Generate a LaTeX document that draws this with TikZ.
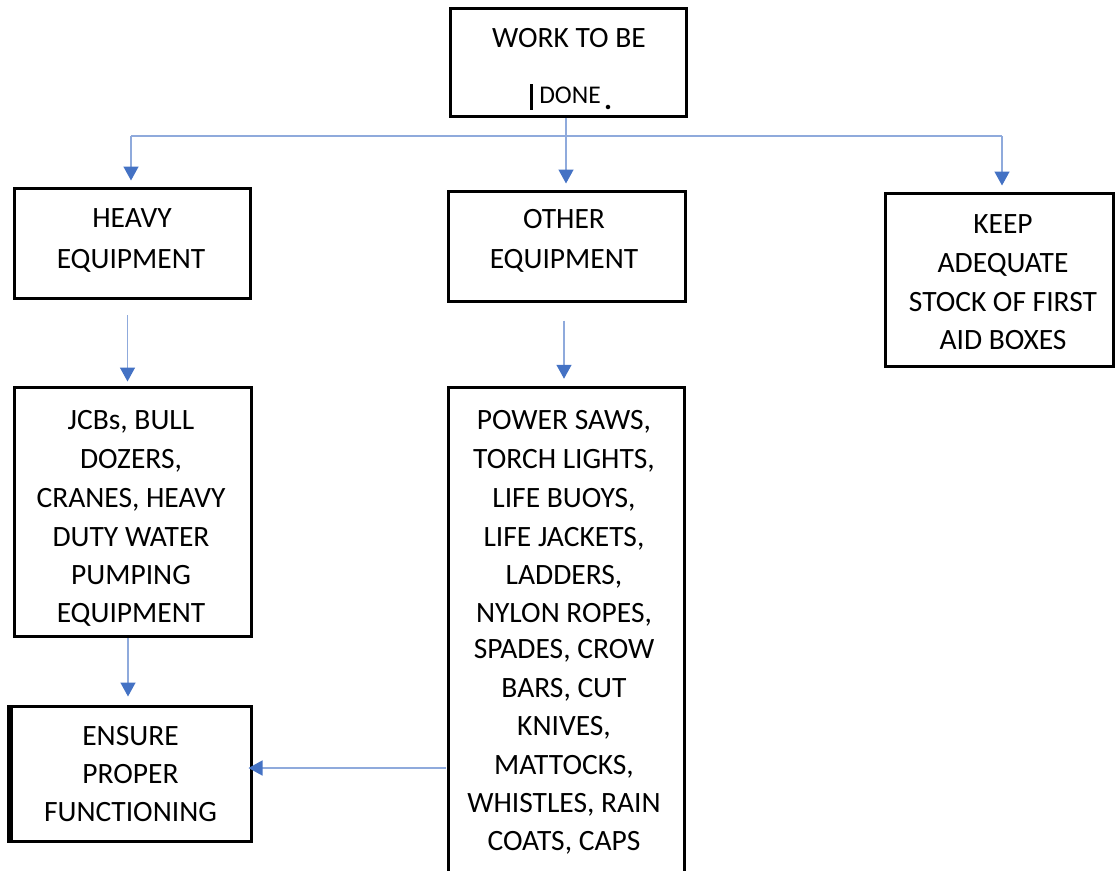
\documentclass[tikz,border=0pt]{standalone}
\usepackage{fontspec}
\setmainfont{Carlito}
\usetikzlibrary{arrows.meta}
\definecolor{lineblue}{HTML}{8FAADC}
\definecolor{headblue}{HTML}{4472C4}
\begin{document}
\begin{tikzpicture}[x=1pt,y=-1pt,
  box/.style={draw=black,line width=3pt,rectangle,inner sep=0pt,line cap=rect},
  txt/.style={anchor=base,inner sep=0pt,font=\fontsize{29.5}{38}\selectfont},
  conn/.style={draw=lineblue,line width=1.5pt,
    -{Triangle[length=14pt,width=15pt,color=headblue]}},
  plain/.style={draw=lineblue,line width=1.5pt}]
\useasboundingbox (0,0) rectangle (1115,870);
\clip (0,0) rectangle (1115,870);

% boxes
\node[box,minimum width=236pt,minimum height=108pt] (top)    at (568.5,62.5) {};
\node[box,minimum width=236pt,minimum height=110pt] (heavy)  at (132.5,243.5) {};
\node[box,minimum width=237pt,minimum height=110pt] (other)  at (567,246.5) {};
\node[box,minimum width=228pt,minimum height=173pt] (keep)   at (999.5,280) {};
\node[box,minimum width=237pt,minimum height=249pt] (jcb)    at (133,512) {};
\node[box,minimum width=236pt,minimum height=512pt] (list)   at (566.5,643.75) {};
\node[box,minimum width=240pt,minimum height=135pt] (ensure) at (131.5,774) {};
\fill (7,705) rectangle (13,843);

% texts
\node[txt] (t1) at (569,47) {WORK TO BE};
\node[txt,font=\fontsize{25.5}{30}\selectfont] (t2) at (570,103) {DONE};
\fill (530,84) rectangle (533,110);
\node[txt,font=\fontsize{30}{30}\selectfont\bfseries] (t3) at (608,109) {.};

\node[txt] (h1) at (132,227) {HEAVY};
\node[txt] (h2) at (131,268) {EQUIPMENT};

\node[txt] (o1) at (564,228) {OTHER};
\node[txt] (o2) at (564,268) {EQUIPMENT};

\node[txt] (k1) at (1003,233) {KEEP};
\node[txt] (k2) at (1003,272) {ADEQUATE};
\node[txt] (k3) at (1003,311) {STOCK OF FIRST};
\node[txt] (k4) at (1003,349) {AID BOXES};

\node[txt] (j1) at (131,429) {JCBs, BULL};
\node[txt] (j2) at (131,468) {DOZERS,};
\node[txt] (j3) at (131,507) {CRANES, HEAVY};
\node[txt] (j4) at (131,546) {DUTY WATER};
\node[txt] (j5) at (131,584) {PUMPING};
\node[txt] (j6) at (131,622) {EQUIPMENT};

\node[txt] (l1)  at (564,429) {POWER SAWS,};
\node[txt] (l2)  at (564,468) {TORCH LIGHTS,};
\node[txt] (l3)  at (564,507) {LIFE BUOYS,};
\node[txt] (l4)  at (564,546) {LIFE JACKETS,};
\node[txt] (l5)  at (564,584) {LADDERS,};
\node[txt] (l6)  at (564,622) {NYLON ROPES,};
\node[txt] (l7)  at (564,658) {SPADES, CROW};
\node[txt] (l8)  at (564,697) {BARS, CUT};
\node[txt] (l9)  at (564,735) {KNIVES,};
\node[txt] (l10) at (564,774) {MATTOCKS,};
\node[txt] (l11) at (564,812) {WHISTLES, RAIN};
\node[txt] (l12) at (564,850) {COATS, CAPS};

\node[txt] (e1) at (130.5,745) {ENSURE};
\node[txt] (e2) at (130.5,783) {PROPER};
\node[txt] (e3) at (130.5,821) {FUNCTIONING};

% connectors
\coordinate (hl) at (131,136);
\coordinate (hr) at (1002,136);
\draw[plain] (hl) -- (hr);
\draw[conn,shorten >=6.5pt] (hl) -- (hl |- heavy.north);
\draw[conn,shorten >=6.5pt] (hr) -- (hr |- keep.north);
\draw[conn,shorten >=6.5pt] ([xshift=-2.5pt]top.south) -- ([xshift=-2.5pt]top.south |- other.north);
\draw[conn,shorten <=15pt,shorten >=4.5pt] ([xshift=-5pt]heavy.south) -- ([xshift=-5pt]heavy.south |- jcb.north);
\draw[conn,shorten >=8.5pt] ([xshift=-5pt]jcb.south) -- ([xshift=-5pt]jcb.south |- ensure.north);
\draw[conn,shorten <=17.5pt,shorten >=7.5pt] ([xshift=-3pt]other.south) -- ([xshift=-3pt]other.south |- list.north);
\draw[conn,shorten <=1.5pt,shorten >=-4.5pt] ([yshift=6pt]ensure.east -| list.west) -- ([yshift=6pt]ensure.east);
\end{tikzpicture}
\end{document}
